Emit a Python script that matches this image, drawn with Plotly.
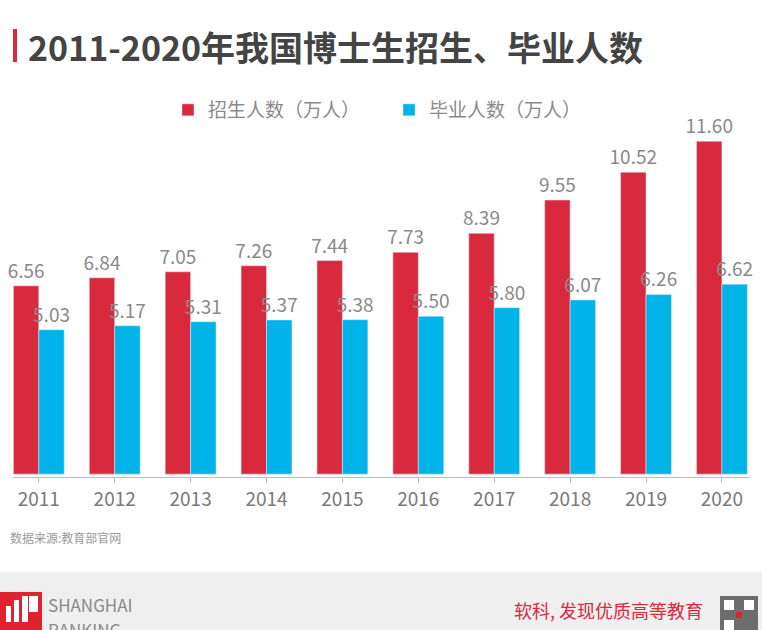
import plotly.graph_objects as go

years = ["2011", "2012", "2013", "2014", "2015", "2016", "2017", "2018", "2019", "2020"]
enroll = [6.56, 6.84, 7.05, 7.26, 7.44, 7.73, 8.39, 9.55, 10.52, 11.60]
graduate = [5.03, 5.17, 5.31, 5.37, 5.38, 5.50, 5.80, 6.07, 6.26, 6.62]
series_names = ["招生人数（万人）", "毕业人数（万人）"]

RED = "#d9293d"
BLUE = "#00b3e8"
FONT = "Noto Sans CJK SC"
W, H = 762, 630
L, R, T, B = 13, 12, 90, 153
PX_PER_UNIT = 28.7
YMIN = -0.1
YMAX = YMIN + (H - T - B) / PX_PER_UNIT

fig = go.Figure()
for name, vals, color in [(series_names[0], enroll, RED), (series_names[1], graduate, BLUE)]:
    fig.add_trace(go.Bar(
        x=years, y=vals, name=name, marker_color=color,
        text=[f"{v:.2f}" for v in vals], textposition="outside",
        constraintext="none",
        textfont=dict(color="#8a8a8a", size=19, family=FONT), cliponaxis=False,
    ))

def fx(x):
    return (x - L) / (W - L - R)

def fy(y):
    return (H - B - y) / (H - T - B)

fig.update_layout(
    width=W, height=H,
    margin=dict(l=L, r=R, t=T, b=B, autoexpand=False),
    paper_bgcolor="white", plot_bgcolor="white",
    barmode="group", bargap=0.33, bargroupgap=0,
    font=dict(family=FONT, color="#888888"),
    showlegend=True,
    legend=dict(orientation="h", x=fx(168), xanchor="left", y=fy(110), yanchor="middle",
                font=dict(size=19, color="#8a8a8a", family=FONT),
                entrywidth=176, entrywidthmode="pixels", traceorder="normal",
                bgcolor="rgba(0,0,0,0)"),
    xaxis=dict(type="category", range=[-0.34, 9.37], showline=True, linecolor="#bbbbbb",
               linewidth=1, ticks="outside", ticklen=5, tickcolor="#bbbbbb",
               tickfont=dict(size=19, color="#7a7a7a", family=FONT), showgrid=False,
               fixedrange=True),
    yaxis=dict(range=[YMIN, YMAX], visible=False, showgrid=False, zeroline=False,
               fixedrange=True),
)

deco = []
def rect(x0, y0, x1, y1, color):
    deco.append(dict(type="rect", xref="paper", yref="paper",
                     x0=fx(x0), x1=fx(x1), y0=fy(y1), y1=fy(y0),
                     fillcolor=color, line_width=0, layer="below"))

rect(13, 29, 17, 62, RED)                 # title marker
rect(-20, 572, 800, 640, "#efefef")       # footer band
rect(0, 592, 42, 640, "#e0242f")          # logo block
rect(6, 606, 11, 622, "white")
rect(14, 600, 19, 622, "white")
rect(22, 596, 28, 622, "white")
rect(29, 596, 38, 612, "white")
rect(720, 596, 758, 640, "#6d6d6d")       # QR code
rect(724, 600, 734, 610, "white")
rect(744, 600, 754, 610, "white")
rect(724, 620, 734, 630, "white")
rect(736, 612, 742, 618, "#e0242f")
fig.update_layout(shapes=deco)

def text(x, y, s, size, color, bold=False, anchor="left"):
    fig.add_annotation(xref="paper", yref="paper", x=fx(x), y=fy(y),
                       text=f"<b>{s}</b>" if bold else s, showarrow=False,
                       xanchor=anchor, yanchor="middle",
                       font=dict(size=size, color=color, family=FONT))

text(26, 46, "2011-2020年我国博士生招生、毕业人数", 34, "#444444", bold=True)
text(8, 537, "数据来源:教育部官网", 12, "#9a9a9a")
text(46, 604, "SHANGHAI", 17, "#8a8a8a")
text(46, 629, "RANKING", 17, "#8a8a8a")
text(705, 610, "软科, 发现优质高等教育", 18, RED, anchor="right")

fig.write_html("out.html", config={"displayModeBar": False},
               post_script="document.body.style.margin='0';")
